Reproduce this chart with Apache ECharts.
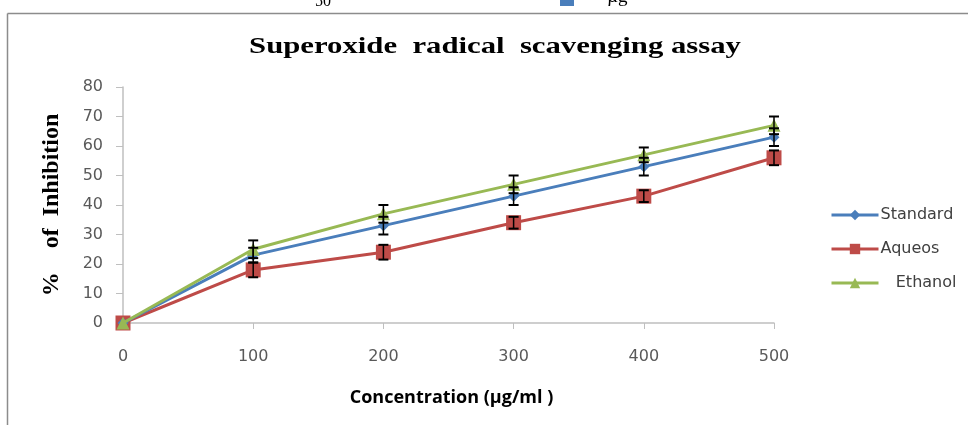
<!DOCTYPE html>
<html lang="en">
<head>
    <meta charset="UTF-8">
    <title>Superoxide radical scavenging assay</title>
    <script src="https://cdn.jsdelivr.net/npm/echarts@6/dist/echarts.min.js"></script>
</head>
<body style="margin:0;background:#fff">
    <div id="chart" style="width:968px;height:425px;"></div>
    <script>
        var concArr = ['0', '100', '200', '300', '400', '500']
        var standardArr = [0, 23, 33, 43, 53, 63]
        var aqueosArr = [0, 18, 24, 34, 43, 56]
        var ethanolArr = [0, 25, 37, 47, 57, 67]
        // error bar half-widths
        var standardErr = [0, 2.5, 3, 3, 3, 3]
        var aqueosErr = [0, 2.5, 2.5, 2, 2, 2.5]
        var ethanolErr = [0, 3, 3, 3, 2.5, 3]

        var myCharts = echarts.init(document.getElementById('chart'))

        // 误差线，用 custom series 画
        function errSeries(vals, errs) {
            var d = vals.map(function (v, i) { return [i, v - errs[i], v + errs[i]] })
            return {
                type: 'custom',
                z: 5,
                silent: true,
                data: d,
                renderItem: function (params, api) {
                    if (api.value(2) - api.value(1) <= 0) return null
                    var lo = api.coord([api.value(0), api.value(1)])
                    var hi = api.coord([api.value(0), api.value(2)])
                    var w = 5
                    return {
                        type: 'group',
                        children: [
                            { type: 'line', shape: { x1: lo[0], y1: lo[1], x2: hi[0], y2: hi[1] }, style: { stroke: '#000', lineWidth: 1.5 } },
                            { type: 'line', shape: { x1: lo[0] - w, y1: lo[1], x2: lo[0] + w, y2: lo[1] }, style: { stroke: '#000', lineWidth: 2 } },
                            { type: 'line', shape: { x1: hi[0] - w, y1: hi[1], x2: hi[0] + w, y2: hi[1] }, style: { stroke: '#000', lineWidth: 2 } }
                        ]
                    }
                }
            }
        }

        var option = {
            animation: false,
            graphic: [
                // page frame + bits of the document above it
                { type: 'line', shape: { x1: 7.5, y1: 13.5, x2: 968, y2: 13.5 }, style: { stroke: '#8c8c8c', lineWidth: 1.5 } },
                { type: 'line', shape: { x1: 7.5, y1: 13.5, x2: 7.5, y2: 425 }, style: { stroke: '#8c8c8c', lineWidth: 1.5 } },
                { type: 'text', x: 315, y: -6, style: { text: '50', font: '16px Liberation Serif', fill: '#000' } },
                { type: 'rect', shape: { x: 560, y: 0, width: 14, height: 6 }, style: { fill: '#4a7ebb' } },
                { type: 'text', x: 596, y: -12, style: { text: '· µg', font: '19px Liberation Serif', fill: '#000' } },
                // title, stretched like the source
                {
                    type: 'text', x: 495, y: 47, scaleX: 1.28, originX: 0, originY: 0,
                    style: {
                        text: 'Superoxide  radical  scavenging assay', font: 'bold 24px Liberation Serif',
                        fill: '#000', align: 'center', verticalAlign: 'middle'
                    }
                }
            ],
            legend: {
                orient: 'vertical',
                left: 825,
                top: 202,
                itemGap: 18,
                itemWidth: 47,
                itemHeight: 13,
                lineStyle: { width: 3 },
                textStyle: { fontFamily: 'DejaVu Sans', fontSize: 16, color: '#404040', padding: [0, 0, 0, -3] },
                data: ['Standard', 'Aqueos', 'Ethanol'],
                formatter: function (n) { return n === 'Ethanol' ? '   ' + n : n }
            },
            grid: { left: 123, right: 194, top: 87, bottom: 102 },
            xAxis: {
                type: 'category',
                data: concArr,
                boundaryGap: false,
                name: 'Concentration (µg/ml )',
                nameLocation: 'middle',
                nameGap: 66,
                nameTextStyle: { fontFamily: 'Open Sans', fontSize: 18, fontWeight: 'bold', color: '#000', padding: [0, 0, 0, 6] },
                axisLine: { lineStyle: { color: '#bfbfbf', width: 1.5 } },
                axisTick: { alignWithLabel: true, length: 6, lineStyle: { color: '#bfbfbf' } },
                axisLabel: { margin: 26, fontFamily: 'DejaVu Sans', fontSize: 16, color: '#595959' }
            },
            yAxis: {
                type: 'value',
                min: 0,
                max: 80,
                interval: 10,
                name: '%    of  Inhibition',
                nameLocation: 'middle',
                nameGap: 59,
                nameTextStyle: { fontFamily: 'Liberation Serif', fontSize: 24, fontWeight: 'bold', color: '#000' },
                axisLine: { show: true, lineStyle: { color: '#bfbfbf', width: 1.5 } },
                axisTick: { show: true, length: 7, lineStyle: { color: '#bfbfbf' } },
                splitLine: { show: false },
                axisLabel: { margin: 20, fontFamily: 'DejaVu Sans', fontSize: 16, color: '#595959' }
            },
            series: [
                {
                    name: 'Standard', type: 'line', data: standardArr, z: 3,
                    symbol: 'diamond', symbolSize: 11, showAllSymbol: true,
                    itemStyle: { color: '#4a7ebb' }, lineStyle: { color: '#4a7ebb', width: 3 }
                },
                {
                    name: 'Aqueos', type: 'line', data: aqueosArr, z: 2,
                    symbol: 'rect', symbolSize: 15, showAllSymbol: true,
                    itemStyle: { color: '#be4b48' }, lineStyle: { color: '#be4b48', width: 3 }
                },
                {
                    name: 'Ethanol', type: 'line', data: ethanolArr, z: 4,
                    symbol: 'triangle', symbolSize: 13, showAllSymbol: true,
                    itemStyle: { color: '#98b954' }, lineStyle: { color: '#98b954', width: 3 }
                },
                errSeries(standardArr, standardErr),
                errSeries(aqueosArr, aqueosErr),
                errSeries(ethanolArr, ethanolErr)
            ]
        }
        myCharts.setOption(option)
    </script>
</body>
</html>
